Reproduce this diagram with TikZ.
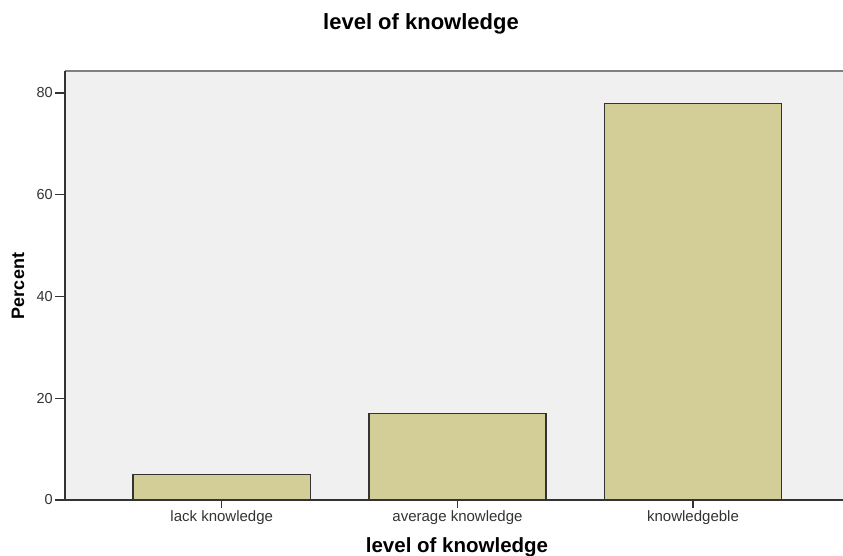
\documentclass[tikz,border=0pt]{standalone}
\usepackage{fontspec}
\setmainfont{Liberation Sans}
\usepackage{tikz}

\definecolor{plotbg}{RGB}{240,240,240}
\definecolor{barfill}{RGB}{211,206,151}
\definecolor{axisgray}{RGB}{51,51,51}
\definecolor{framegray}{RGB}{128,128,128}

\tikzset{
    bar/.style={draw=axisgray, line width=1.2pt, fill=barfill},
    ticklabel/.style={font=\fontsize{14.5}{16}\selectfont, text=axisgray, inner sep=0pt},
    catlabel/.style={font=\fontsize{15}{17}\selectfont, text=axisgray, inner sep=0pt},
    axistitle/.style={font=\bfseries\fontsize{20.5}{22}\selectfont, inner sep=0pt}
}

\begin{document}
\begin{tikzpicture}[x=1pt,y=-1pt]
    \useasboundingbox (0,0) rectangle (843,556);

    % plot area
    \fill[plotbg] (65,71.5) rectangle (843,500);
    \draw[framegray, line width=2pt] (65,71.5) -- (843,71.5);

    % bars
    \draw[bar] (133,500) rectangle (310.5,474.6);
    \draw[bar] (369,500) rectangle (546,413.5);
    \draw[bar] (604.5,500) rectangle (781.5,103.2);

    % axes
    \draw[axisgray, line width=1.6pt] (65,71.5) -- (65,500) -- (843,500);

    % y ticks
    \coordinate (y0) at (65,500);
    \coordinate (y20) at (65,398.25);
    \coordinate (y40) at (65,296.5);
    \coordinate (y60) at (65,194.75);
    \coordinate (y80) at (65,93);
    \draw[axisgray, line width=1.4pt] (y0) -- ++(-10,0);
    \draw[axisgray, line width=1.4pt] (y20) -- ++(-10,0);
    \draw[axisgray, line width=1.4pt] (y40) -- ++(-10,0);
    \draw[axisgray, line width=1.4pt] (y60) -- ++(-10,0);
    \draw[axisgray, line width=1.4pt] (y80) -- ++(-10,0);
    \node[ticklabel, anchor=east] (l0) at (53,500) {0};
    \node[ticklabel, anchor=east] (l20) at (53,398.25) {20};
    \node[ticklabel, anchor=east] (l40) at (53,296.5) {40};
    \node[ticklabel, anchor=east] (l60) at (53,194.75) {60};
    \node[ticklabel, anchor=east] (l80) at (53,93) {80};

    % x ticks
    \coordinate (x1) at (221.75,500);
    \coordinate (x2) at (457.5,500);
    \coordinate (x3) at (693,500);
    \draw[axisgray, line width=1.4pt] (x1) -- ++(0,8);
    \draw[axisgray, line width=1.4pt] (x2) -- ++(0,8);
    \draw[axisgray, line width=1.4pt] (x3) -- ++(0,8);
    \node[catlabel, anchor=base] (c1) at (221.75,521.5) {lack knowledge};
    \node[catlabel, anchor=base] (c2) at (457.5,521.5) {average knowledge};
    \node[catlabel, anchor=base] (c3) at (693,521.5) {knowledgeble};

    % titles
    \node[axistitle, anchor=base, font=\bfseries\fontsize{22}{24}\selectfont] (title) at (421,29.3) {level of knowledge};
    \node[axistitle, anchor=base] (xtitle) at (457,552.5) {level of knowledge};
    \node[axistitle, rotate=90, font=\bfseries\fontsize{18}{20}\selectfont] (ytitle) at (18,286) {Percent};
\end{tikzpicture}
\end{document}
